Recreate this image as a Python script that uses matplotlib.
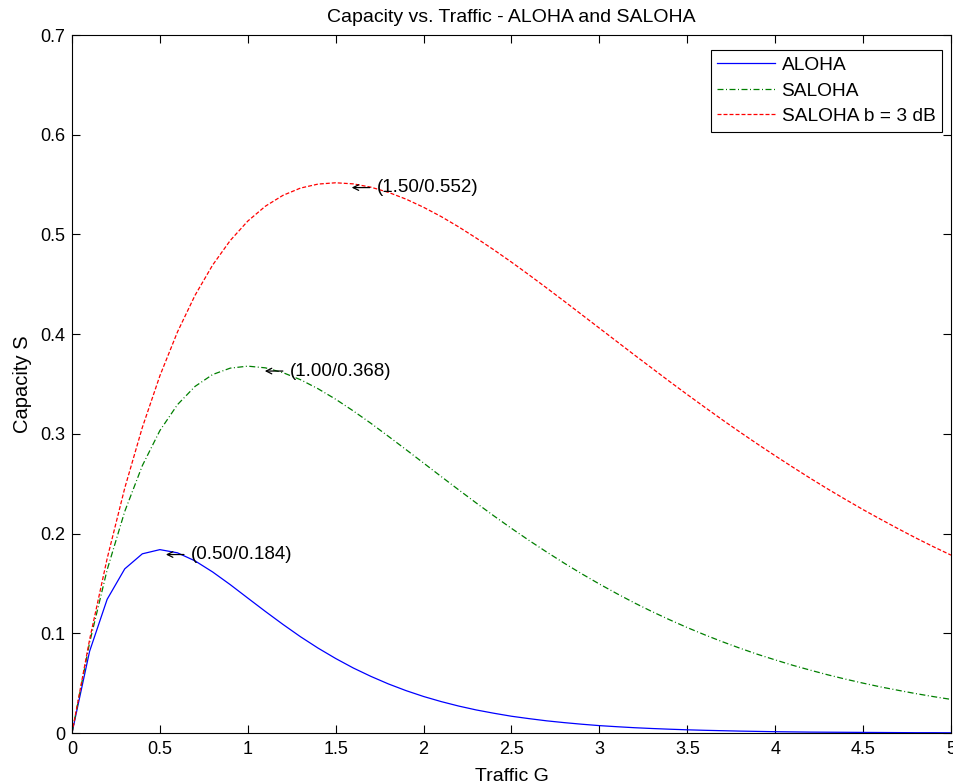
import matplotlib
matplotlib.use("Agg")
import matplotlib.pyplot as plt
from matplotlib.ticker import FuncFormatter
from matplotlib.transforms import offset_copy

plt.rcParams['font.family'] = ['Liberation Sans', 'DejaVu Sans']

traffic_g = [round(0.1 * i, 1) for i in range(51)]

aloha = [0.0, 0.0819, 0.1341, 0.1646, 0.1797, 0.1839, 0.1807, 0.1726, 0.1615, 0.1488,
         0.1353, 0.1219, 0.1089, 0.0965, 0.0851, 0.0747, 0.0652, 0.0568, 0.0492, 0.0425,
         0.0366, 0.0315, 0.0270, 0.0231, 0.0198, 0.0168, 0.0144, 0.0122, 0.0104, 0.0088,
         0.0074, 0.0063, 0.0053, 0.0045, 0.0038, 0.0032, 0.0027, 0.0023, 0.0019, 0.0016,
         0.0013, 0.0011, 0.0009, 0.0008, 0.0007, 0.0006, 0.0005, 0.0004, 0.0003, 0.0003,
         0.0002]

saloha = [0.0, 0.0905, 0.1637, 0.2222, 0.2681, 0.3033, 0.3293, 0.3476, 0.3595, 0.3659,
          0.3679, 0.3662, 0.3614, 0.3543, 0.3452, 0.3347, 0.3230, 0.3106, 0.2975, 0.2842,
          0.2707, 0.2572, 0.2438, 0.2306, 0.2177, 0.2052, 0.1931, 0.1815, 0.1703, 0.1596,
          0.1494, 0.1397, 0.1304, 0.1217, 0.1135, 0.1057, 0.0984, 0.0915, 0.0850, 0.0789,
          0.0733, 0.0679, 0.0630, 0.0583, 0.0540, 0.0500, 0.0462, 0.0428, 0.0395, 0.0365,
          0.0337]

saloha_3db = [0.0, 0.0936, 0.1750, 0.2456, 0.3064, 0.3583, 0.4022, 0.4390, 0.4693, 0.4939,
              0.5134, 0.5283, 0.5392, 0.5465, 0.5505, 0.5518, 0.5507, 0.5474, 0.5422, 0.5354,
              0.5272, 0.5179, 0.5075, 0.4963, 0.4845, 0.4722, 0.4594, 0.4463, 0.4330, 0.4195,
              0.4060, 0.3925, 0.3790, 0.3657, 0.3524, 0.3394, 0.3266, 0.3140, 0.3017, 0.2897,
              0.2780, 0.2666, 0.2554, 0.2446, 0.2342, 0.2240, 0.2143, 0.2048, 0.1956, 0.1868,
              0.1784]

series_labels = ["ALOHA", "SALOHA", "SALOHA b = 3 dB"]
peak_g = [0.50, 1.00, 1.50]
peak_s = [0.184, 0.368, 0.552]

fig = plt.figure(figsize=(9.54, 7.84), dpi=100)
ax = fig.add_axes([72/954, 1-733/784, (951-72)/954, (733-35)/784])

ax.plot(traffic_g, aloha, color='#0000ff', lw=0.9, ls='-', label=series_labels[0])
ax.plot(traffic_g, saloha, color='#007f00', lw=0.9, ls=(0, (4.8, 2, 0.8, 2)), label=series_labels[1])
ax.plot(traffic_g, saloha_3db, color='#ff0000', lw=0.9, ls=(0, (3.2, 1.6)), label=series_labels[2])

ax.set_xlim(0, 5)
ax.set_ylim(0, 0.7)

# arrow tip horizontal offsets (pixels) from each peak, as in the reference layout
tip_dx_px = [6, 17, 16]
for g, s, dxp in zip(peak_g, peak_s, tip_dx_px):
    tip_tr = offset_copy(ax.transData, fig=fig, x=dxp, y=-5, units='dots')
    txt_tr = offset_copy(ax.transData, fig=fig, x=dxp + 25, y=-5, units='dots')
    ax.annotate(f"({g:.2f}/{s:.3f})", xy=(g, s), xycoords=tip_tr,
                xytext=(g, s), textcoords=txt_tr,
                fontsize=13.5, va='center', ha='left',
                arrowprops=dict(arrowstyle='->', color='black', lw=0.9,
                                shrinkA=3, shrinkB=0, mutation_scale=10))

ax.set_xticks([0, 0.5, 1, 1.5, 2, 2.5, 3, 3.5, 4, 4.5, 5])
ax.set_yticks([0, 0.1, 0.2, 0.3, 0.4, 0.5, 0.6, 0.7])
ax.xaxis.set_major_formatter(FuncFormatter(lambda v, p: f"{v:g}"))
ax.yaxis.set_major_formatter(FuncFormatter(lambda v, p: f"{v:g}"))
ax.tick_params(direction='in', top=True, right=True, length=6, width=0.8, labelsize=13)
ax.tick_params(axis='x', pad=6)
ax.tick_params(axis='y', pad=5)
for sp in ax.spines.values():
    sp.set_linewidth(0.8)

ax.set_title("Capacity vs. Traffic - ALOHA and SALOHA", fontsize=14, pad=9)
ax.set_xlabel("Traffic G", fontsize=14, labelpad=7)
ax.set_ylabel("Capacity S", fontsize=14.5, labelpad=6)

leg = ax.legend(loc='upper right', bbox_to_anchor=(942/954, 1-50/784),
                bbox_transform=fig.transFigure, borderaxespad=0,
                fontsize=13.8, frameon=True, fancybox=False,
                edgecolor='black', framealpha=1, handlelength=3.0,
                labelspacing=0.42, borderpad=0.35, handletextpad=0.35)
leg.get_frame().set_linewidth(0.8)

fig.savefig("out.png", dpi=100)
